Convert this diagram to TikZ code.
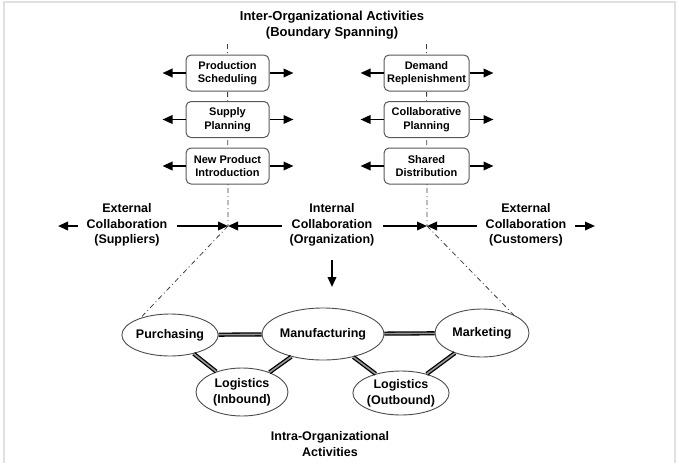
\documentclass[tikz,border=0pt]{standalone}
\usepackage{fontspec}
\setmainfont{Liberation Sans}
\usetikzlibrary{arrows.meta,shapes.geometric}
\begin{document}
\begin{tikzpicture}[x=1pt,y=-1pt,
  box/.style={draw=black!65, line width=1pt, rounded corners=5pt, fill=white, minimum height=36pt, align=center, inner sep=0pt, font=\fontsize{11}{13.5}\selectfont\bfseries},
  oval/.style={ellipse, draw=black!70, line width=0.9pt, fill=white, inner sep=0pt, align=center, font=\fontsize{12.5}{16}\selectfont\bfseries},
  arr/.style={line width=1.9pt, -{Triangle[length=10pt,width=8.5pt]}},
  dd/.style={black!75, line width=0.8pt, dash pattern=on 5pt off 3pt on 1pt off 3pt},
  link/.style={line width=1.3pt, double=black!40, double distance=1.6pt},
  lab/.style={align=center, font=\fontsize{12.5}{15.5}\selectfont\bfseries, inner sep=0pt},
  ttl/.style={align=center, font=\fontsize{13}{15.5}\selectfont\bfseries, inner sep=0pt},
  frm/.style={draw=black!12, line width=2.5pt}]
\useasboundingbox (0,0) rectangle (679,463);
% frame
\coordinate (f1) at (4,463);
\coordinate (f2) at (4,2);
\coordinate (f3) at (675,2);
\coordinate (f4) at (675,463);
\draw[frm] (f1) -- (f2) -- (f3) -- (f4);
% title
\node[ttl] (title) at (332,25) {Inter-Organizational Activities\\(Boundary Spanning)};
% crossing points and tops of the boundary lines
\coordinate (topL) at (227.5,44);
\coordinate (topR) at (426.5,44);
\coordinate (cL) at (228,226);
\coordinate (cR) at (427,226);
\draw[dd] (topL) -- (cL);
\draw[dd] (topR) -- (cR);
% boxes left
\node[box, minimum width=83pt] (b1) at (227.5,73) {Production\\Scheduling};
\node[box, minimum width=83pt] (b2) at (227.5,119.5) {Supply\\Planning};
\node[box, minimum width=83pt] (b3) at (227.5,166) {New Product\\Introduction};
% boxes right
\node[box, minimum width=85pt] (b4) at (426.5,73) {Demand\\Replenishment};
\node[box, minimum width=85pt] (b5) at (426.5,119.5) {Collaborative\\Planning};
\node[box, minimum width=85pt] (b6) at (426.5,166) {Shared\\Distribution};
\foreach \b in {b1,b2,b3,b4,b5,b6}{
  \draw[arr] (\b.west) -- ++(-23,0);
  \draw[arr] (\b.east) -- ++(24,0);
}
% collaboration labels
\node[lab] (extL) at (127,225) {External\\Collaboration\\(Suppliers)};
\node[lab] (intC) at (332,225) {Internal\\Collaboration\\(Organization)};
\node[lab] (extR) at (526,225) {External\\Collaboration\\(Customers)};
\coordinate (a1s) at (78,226);   \coordinate (a1e) at (58,226);
\coordinate (a2s) at (177,226);
\coordinate (a3s) at (282,226);
\coordinate (a4s) at (383,226);
\coordinate (a5s) at (477,226);
\coordinate (a6s) at (575,226);  \coordinate (a6e) at (595,226);
\coordinate (dns) at (332,260);  \coordinate (dne) at (332,287);
\draw[arr] (a1s) -- (a1e);
\draw[arr] (a2s) -- (cL);
\draw[arr] (a3s) -- (cL);
\draw[arr] (a4s) -- (cR);
\draw[arr] (a5s) -- (cR);
\draw[arr] (a6s) -- (a6e);
\draw[arr] (dns) -- (dne);
% functions
\node[oval, minimum width=94pt, minimum height=42pt] (pur) at (170,335) {Purchasing};
\node[oval, minimum width=100pt, minimum height=52pt] (man) at (323,334) {Manufacturing};
\node[oval, minimum width=94pt, minimum height=48pt] (mkt) at (482,333) {Marketing};
\node[oval, minimum width=92pt, minimum height=48pt] (lin) at (242,392) {Logistics\\(Inbound)};
\node[oval, minimum width=92pt, minimum height=44pt] (lout) at (401,393) {Logistics\\(Outbound)};
\draw[dd] (cL) -- (pur.150);
\draw[dd] (cR) -- (mkt.30);
\draw[link] (pur) -- (man);
\draw[link] (man) -- (mkt);
\draw[link] (pur) -- (lin);
\draw[link] (man) -- (lin);
\draw[link] (man) -- (lout);
\draw[link] (mkt) -- (lout);
\node[lab] (intra) at (330,444) {Intra-Organizational\\Activities};
\end{tikzpicture}
\end{document}
